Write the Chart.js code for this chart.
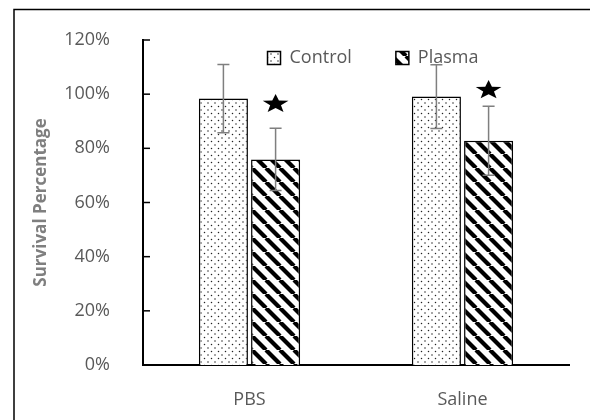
<!DOCTYPE html>
<html>
<head>
<meta charset="utf-8">
<script src="https://cdn.jsdelivr.net/npm/chart.js@4.4.1/dist/chart.umd.min.js"></script>
<style>
  html, body { margin: 0; padding: 0; background: #fff; }
  canvas { display: block; }
</style>
</head>
<body>
<canvas id="chart" width="590" height="420"></canvas>
<script>
// data
const categories = ['PBS', 'Saline'];
const controlValues = [98.4, 99.1];
const controlErrors = [12.6, 11.8];
const plasmaValues = [75.9, 82.8];
const plasmaErrors = [11.5, 12.7];
const starValues = [96.4, 101.5]; // significance stars above plasma bars
const yTicks = [0, 20, 40, 60, 80, 100, 120];

const grey = '#595959';

// dotted fill for Control
function dotPattern() {
  const c = document.createElement('canvas');
  c.width = 7; c.height = 7;
  const g = c.getContext('2d');
  g.fillStyle = '#fff';
  g.fillRect(0, 0, 7, 7);
  g.fillStyle = '#222';
  g.beginPath(); g.arc(1.5, 1.5, 0.75, 0, Math.PI * 2); g.fill();
  g.beginPath(); g.arc(5, 5, 0.75, 0, Math.PI * 2); g.fill();
  return g.createPattern(c, 'repeat');
}

// "\" stripes for Plasma
function stripePattern() {
  const s = 14;
  const c = document.createElement('canvas');
  c.width = s; c.height = s;
  const g = c.getContext('2d');
  g.fillStyle = '#fff';
  g.fillRect(0, 0, s, s);
  g.strokeStyle = '#000';
  g.lineWidth = 4.2;
  for (const o of [-s, 0, s]) {
    g.beginPath();
    g.moveTo(o, 0);
    g.lineTo(o + s, s);
    g.stroke();
  }
  return g.createPattern(c, 'repeat');
}

function drawStar(ctx, cx, cy) {
  const R = 10, r = 4.2;
  ctx.save();
  ctx.translate(cx, cy);
  ctx.scale(1.35, 1);
  ctx.beginPath();
  for (let k = 0; k < 10; k++) {
    const rad = k % 2 ? r : R;
    const a = -Math.PI / 2 + k * Math.PI / 5;
    ctx.lineTo(rad * Math.cos(a), rad * Math.sin(a));
  }
  ctx.closePath();
  ctx.fillStyle = '#000';
  ctx.fill();
  ctx.restore();
}

const extras = {
  id: 'extras',
  beforeDraw(chart) {
    // outer frame (left + top edge)
    const ctx = chart.ctx;
    ctx.save();
    ctx.strokeStyle = '#000';
    ctx.lineWidth = 1.5;
    ctx.beginPath();
    ctx.moveTo(14, chart.height);
    ctx.lineTo(14, 9.5);
    ctx.lineTo(chart.width, 9.5);
    ctx.stroke();
    ctx.restore();
  },
  afterLayout(chart) {
    // move the legend down into the plot, a bit right of centre
    const lg = chart.legend;
    lg.left += 17; lg.right += 17;
    lg.top -= 34;
    lg.height = 70;
    lg.bottom = lg.top + lg.height;
  },
  afterDatasetsDraw(chart) {
    const ctx = chart.ctx;
    const y = chart.scales.y;
    const area = chart.chartArea;
    ctx.save();
    // error bars
    ctx.strokeStyle = '#7f7f7f';
    ctx.lineWidth = 1.5;
    [[0, controlErrors], [1, plasmaErrors]].forEach(([di, errs]) => {
      const meta = chart.getDatasetMeta(di);
      meta.data.forEach((bar, i) => {
        const v = chart.data.datasets[di].data[i];
        const yt = y.getPixelForValue(v + errs[i]);
        const yb = y.getPixelForValue(v - errs[i]);
        ctx.beginPath();
        ctx.moveTo(bar.x, yt); ctx.lineTo(bar.x, yb);
        ctx.moveTo(bar.x - 6, yt); ctx.lineTo(bar.x + 6, yt);
        ctx.moveTo(bar.x - 6, yb); ctx.lineTo(bar.x + 6, yb);
        ctx.stroke();
      });
    });
    // stars
    chart.getDatasetMeta(1).data.forEach((bar, i) => {
      drawStar(ctx, bar.x, y.getPixelForValue(starValues[i]));
    });
    // inward tick marks on the y axis
    ctx.strokeStyle = '#000';
    ctx.lineWidth = 1.5;
    yTicks.forEach(v => {
      const py = y.getPixelForValue(v);
      ctx.beginPath();
      ctx.moveTo(area.left, py);
      ctx.lineTo(area.left + 7, py);
      ctx.stroke();
    });
    ctx.restore();
  }
};

new Chart(document.getElementById('chart'), {
  type: 'bar',
  data: {
    labels: categories,
    datasets: [
      {
        label: 'Control',
        data: controlValues,
        backgroundColor: dotPattern(),
        borderColor: '#000',
        borderWidth: 1.5,
        categoryPercentage: 0.49,
        barPercentage: 0.94
      },
      {
        label: 'Plasma',
        data: plasmaValues,
        backgroundColor: stripePattern(),
        borderColor: '#000',
        borderWidth: 1.5,
        categoryPercentage: 0.49,
        barPercentage: 0.94
      }
    ]
  },
  options: {
    responsive: false,
    animation: false,
    layout: { padding: { top: 39, right: 21, bottom: 0, left: 0 } },
    plugins: {
      legend: {
        position: 'top',
        align: 'center',
        fullSize: false,
        maxHeight: 1,
        labels: {
          boxWidth: 13,
          boxHeight: 13,
          padding: 44,
          color: grey,
          font: { family: 'Open Sans', size: 18 }
        }
      },
      tooltip: { enabled: false }
    },
    scales: {
      x: {
        grid: { display: false },
        border: { display: true, color: '#000', width: 2 },
        ticks: { color: grey, padding: 16, font: { family: 'Open Sans', size: 18 } },
        afterFit: s => { s.height = 55; }
      },
      y: {
        min: 0,
        max: 120,
        grid: { display: false },
        border: { display: true, color: '#000', width: 2 },
        afterBuildTicks: s => { s.ticks = yTicks.map(v => ({ value: v })); },
        ticks: {
          color: grey,
          padding: 25,
          font: { family: 'Open Sans', size: 18 },
          callback: v => v + '%'
        },
        title: {
          display: true,
          text: 'Survival Percentage',
          color: '#7f7f7f',
          padding: { top: 31, bottom: 0 },
          font: { family: 'Open Sans', size: 17, weight: 'bold' }
        },
        afterFit: s => { s.width = 143; }
      }
    }
  },
  plugins: [extras]
});
</script>
</body>
</html>
